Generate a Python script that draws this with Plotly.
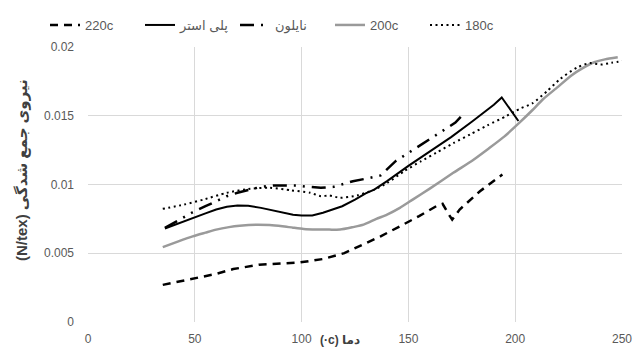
import plotly.graph_objects as go

# ---- data ----
x_220 = [35, 49, 60, 68, 80, 99, 110, 120, 130, 137, 146, 155, 163, 166, 169, 170.5, 174, 183.5, 194]
y_220 = [0.0027, 0.00312, 0.0035, 0.00385, 0.00416, 0.00433, 0.00458, 0.00501, 0.0057, 0.00623, 0.00696, 0.0077, 0.00842, 0.0086, 0.0078, 0.00745, 0.00818, 0.00951, 0.01073]

x_pe = [36, 43, 49, 55, 60, 65, 70, 75, 81, 86, 91, 96, 100, 105, 110, 114, 119, 125, 130, 134, 140, 150, 160, 170, 180, 190, 193.7, 201.5]
y_pe = [0.0068, 0.00722, 0.00757, 0.0079, 0.00818, 0.00838, 0.00847, 0.00845, 0.0083, 0.00812, 0.00793, 0.0078, 0.00774, 0.00774, 0.00795, 0.00818, 0.00842, 0.0089, 0.00935, 0.00963, 0.01025, 0.01135, 0.0124, 0.01345, 0.0146, 0.0158, 0.01633, 0.01462]

x_ny = [36, 44, 49, 55, 60, 65, 70, 76, 81, 87, 92, 98, 103, 109, 115, 120, 124, 130, 137, 144, 150, 154, 159, 166, 172, 176]
y_ny = [0.00684, 0.00757, 0.00798, 0.00842, 0.0088, 0.00915, 0.0094, 0.00966, 0.00983, 0.00993, 0.00995, 0.00993, 0.00983, 0.00976, 0.00983, 0.01003, 0.01024, 0.01042, 0.01066, 0.0117, 0.0123, 0.01268, 0.01316, 0.01389, 0.0145, 0.01516]

x_200 = [35, 42, 49, 55, 60, 66, 71, 79, 85, 91, 96, 101, 107, 113, 118, 124, 129, 135, 140, 146, 152, 160, 171, 180, 187, 195, 202, 208, 213, 220, 226, 232, 237, 242, 248]
y_200 = [0.00545, 0.00585, 0.00623, 0.0065, 0.00672, 0.0069, 0.007, 0.00708, 0.00705, 0.00696, 0.00686, 0.00677, 0.00673, 0.00672, 0.00672, 0.0069, 0.00708, 0.0075, 0.00781, 0.0083, 0.0089, 0.0097, 0.01085, 0.01175, 0.01255, 0.0135, 0.0145, 0.0154, 0.0162, 0.0171, 0.0179, 0.0185, 0.01889, 0.0191, 0.01925]

x_180 = [35, 45, 54, 65, 76, 85, 95, 104, 109, 113, 118, 126, 134, 140, 148, 156, 163, 171, 179, 187, 196, 202, 208, 215, 221, 229, 235, 240, 245, 251]
y_180 = [0.00823, 0.00854, 0.0089, 0.0094, 0.00969, 0.00976, 0.00958, 0.0094, 0.00915, 0.0092, 0.00903, 0.0092, 0.00963, 0.0101, 0.01097, 0.0117, 0.01231, 0.013, 0.01365, 0.0143, 0.01499, 0.0155, 0.0159, 0.0168, 0.01767, 0.01852, 0.01883, 0.01872, 0.01885, 0.019]

x_ticks = [0, 50, 100, 150, 200, 250]
y_ticks = [0, 0.005, 0.01, 0.015, 0.02]
y_tick_text = ["0", "0.005", "0.01", "0.015", "0.02"]

names = ["220c", "پلی استر", "نایلون", "200c", "180c"]

TXT = "#595959"
GRID = "#d9d9d9"
FONT = "Liberation Sans, DejaVu Sans, sans-serif"

L, R, T, B = 88, 18, 47, 30
PW, PH = 640 - L - R, 352 - T - B

fig = go.Figure()
fig.add_trace(go.Scatter(x=x_220, y=y_220, mode="lines", name=names[0],
                         line=dict(color="black", width=2.5, dash="8px,6px")))
fig.add_trace(go.Scatter(x=x_pe, y=y_pe, mode="lines", name=names[1],
                         line=dict(color="black", width=2)))
fig.add_trace(go.Scatter(x=x_ny, y=y_ny, mode="lines", name=names[2],
                         line=dict(color="black", width=2.5, dash="14px,7px,2px,7px,2px,7px")))
fig.add_trace(go.Scatter(x=x_200, y=y_200, mode="lines", name=names[3],
                         line=dict(color="#9a9a9a", width=2.5, shape="spline", smoothing=0.6)))
fig.add_trace(go.Scatter(x=x_180, y=y_180, mode="lines", name=names[4],
                         line=dict(color="black", width=2, dash="2px,3.5px", shape="spline", smoothing=0.6)))

fig.update_layout(
    width=640, height=352,
    margin=dict(l=L, r=R, t=T, b=B, autoexpand=False),
    paper_bgcolor="white", plot_bgcolor="white",
    font=dict(family=FONT, size=12, color=TXT),
    showlegend=True,
    legend=dict(orientation="h", x=45 / 640, xanchor="left", xref="container",
                y=1 - 25 / 352, yanchor="middle", yref="container",
                font=dict(size=13, color=TXT),
                entrywidth=50, entrywidthmode="pixels", tracegroupgap=0,
                bgcolor="rgba(0,0,0,0)"),
    xaxis=dict(range=[0, 250], tickvals=x_ticks, showgrid=True, gridcolor=GRID,
               gridwidth=1, zeroline=False, showline=False, ticks="", automargin=False,
               ticklabelstandoff=8, tickfont=dict(size=12, color=TXT)),
    yaxis=dict(range=[0, 0.02], tickvals=y_ticks, ticktext=y_tick_text, showgrid=True,
               gridcolor=GRID, gridwidth=1, zeroline=False, showline=False, ticks="",
               automargin=False,
               ticklabelstandoff=13, tickfont=dict(size=12, color=TXT)),
)

fig.add_annotation(text="<b>(·c) دما</b>", xref="paper", yref="paper",
                   x=(340 - L) / PW, y=-(340 - 322) / PH, showarrow=False,
                   font=dict(size=12, color="#404040"), xanchor="center", yanchor="middle")
fig.add_annotation(text="<b>(N/tex) نیروی جمع شدگی</b>", xref="paper", yref="paper",
                   x=(22 - L) / PW, y=(322 - 170) / PH, showarrow=False, textangle=-90,
                   font=dict(size=15, color="#404040"), xanchor="center", yanchor="middle")

fig.write_html("out.html", config={"displayModeBar": False},
               post_script="document.body.style.margin='0px';")
